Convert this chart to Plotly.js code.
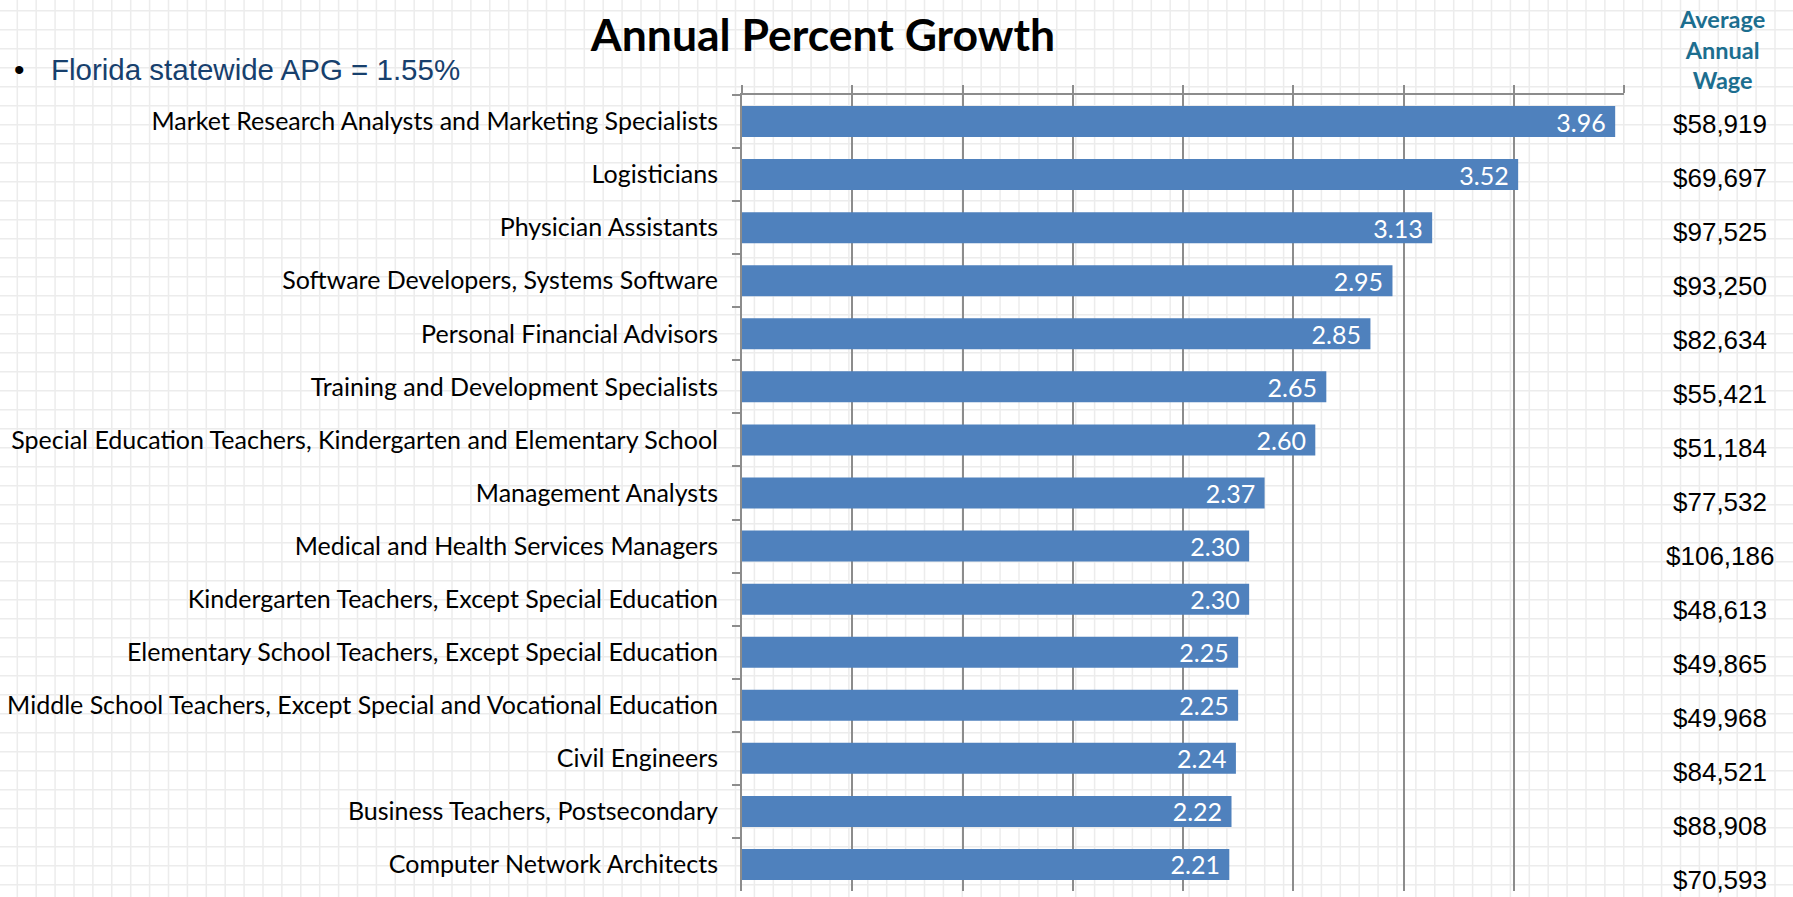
<!DOCTYPE html>
<html>
<head>
<meta charset="utf-8">
<script src="https://cdn.plot.ly/plotly-3.0.1.min.js"></script>
<style>
html,body{margin:0;padding:0;background:#fff;}
#chart{width:1793px;height:897px;}
</style>
</head>
<body>
<div id="chart"></div>
<script>
// ---- data ----
var occupations = [
  "Market Research Analysts and Marketing Specialists",
  "Logisticians",
  "Physician Assistants",
  "Software Developers, Systems Software",
  "Personal Financial Advisors",
  "Training and Development Specialists",
  "Special Education Teachers, Kindergarten and Elementary School",
  "Management Analysts",
  "Medical and Health Services Managers",
  "Kindergarten Teachers, Except Special Education",
  "Elementary School Teachers, Except Special Education",
  "Middle School Teachers, Except Special and Vocational Education",
  "Civil Engineers",
  "Business Teachers, Postsecondary",
  "Computer Network Architects"
];
var apgValues = [3.96, 3.52, 3.13, 2.95, 2.85, 2.65, 2.60, 2.37, 2.30, 2.30, 2.25, 2.25, 2.24, 2.22, 2.21];
var avgWages = ["$58,919", "$69,697", "$97,525", "$93,250", "$82,634", "$55,421", "$51,184", "$77,532",
                "$106,186", "$48,613", "$49,865", "$49,968", "$84,521", "$88,908", "$70,593"];
var chartTitle = "Annual Percent Growth";
var statewideNote = "Florida statewide APG = 1.55%";
var wageHeader = "Average<br>Annual<br>Wage";

// ---- layout geometry (pixels) ----
var W = 1793, H = 897;
var PL = 742, PR = 1624, PT = 95, PB = 891;
function px2x(px){ return (px - PL) / (PR - PL); }
function px2y(py){ return (PB - py) / (PB - PT); }

var NUM_FONT = "Lato, 'Liberation Sans', sans-serif";
var ARIAL = "'Liberation Sans', Arial, sans-serif";

var trace = {
  type: "bar",
  orientation: "h",
  y: occupations,
  x: apgValues,
  marker: {color: "#4F81BD", line: {width: 0}},
  text: apgValues.map(function(v){ return v.toFixed(2) + "\u00a0"; }),
  textposition: "inside",
  insidetextanchor: "end",
  constraintext: "none",
  textfont: {family: NUM_FONT, size: 25, color: "#ffffff"},
  hoverinfo: "x+y",
  cliponaxis: false
};

// background graph-paper grid (decoration)
var shapes = [];
for (var gx = 17.3; gx < W; gx += 18.9) {
  shapes.push({type: "line", layer: "below", xref: "paper", yref: "paper",
    x0: px2x(gx), x1: px2x(gx), y0: px2y(0), y1: px2y(H),
    line: {color: "#ececec", width: 1.5}});
}
for (var gy = 10.7; gy < H; gy += 19) {
  shapes.push({type: "line", layer: "below", xref: "paper", yref: "paper",
    x0: px2x(0), x1: px2x(W), y0: px2y(gy), y1: px2y(gy),
    line: {color: "#ececec", width: 1.5}});
}

var annotations = [];
// bullet note
annotations.push({xref: "paper", yref: "paper", x: px2x(19), y: px2y(70), xanchor: "center", yanchor: "middle",
  text: "\u2022", showarrow: false, font: {family: ARIAL, size: 30, color: "#000000"}});
annotations.push({xref: "paper", yref: "paper", x: px2x(49), y: px2y(70), xanchor: "left", yanchor: "middle",
  text: statewideNote, showarrow: false, font: {family: ARIAL, size: 29.5, color: "#17406D"}});
// wage header
annotations.push({xref: "paper", yref: "paper", x: px2x(1722), y: px2y(50), xanchor: "center", yanchor: "middle",
  text: "<b>" + wageHeader + "</b>", showarrow: false, align: "center",
  font: {family: NUM_FONT, size: 23.5, color: "#1C6E8F"}});
// wage column
var wageTop = 123.5, wageStep = 54.07;
avgWages.forEach(function(w, i){
  annotations.push({xref: "paper", yref: "paper", x: px2x(1720), y: px2y(wageTop + i * wageStep),
    xanchor: "center", yanchor: "middle", text: w, showarrow: false,
    font: {family: ARIAL, size: 26, color: "#000000"}});
});

var layout = {
  width: W, height: H,
  paper_bgcolor: "#ffffff",
  plot_bgcolor: "rgba(0,0,0,0)",
  margin: {l: PL, r: W - PR, t: PT, b: H - PB, pad: 0},
  showlegend: false,
  bargap: 0.416,
  title: {text: "<b>" + chartTitle + "</b>", xref: "container", yref: "container",
    x: 823 / W, y: 1 - 35 / H, xanchor: "center", yanchor: "middle",
    font: {family: NUM_FONT, size: 44.5, color: "#000000"}},
  xaxis: {
    side: "top", range: [0, 4], dtick: 0.5, tick0: 0,
    showgrid: true, gridcolor: "#8c8c8c", gridwidth: 2,
    showline: true, linecolor: "#8c8c8c", linewidth: 2,
    ticks: "outside", ticklen: 8, tickwidth: 2, tickcolor: "#8c8c8c",
    showticklabels: false, zeroline: false, fixedrange: true
  },
  yaxis: {
    type: "category", autorange: "reversed",
    showline: true, linecolor: "#8c8c8c", linewidth: 2,
    ticks: "outside", tickson: "boundaries", ticklen: 8, tickwidth: 2, tickcolor: "#8c8c8c",
    showgrid: false, ticklabelstandoff: 17,
    tickfont: {family: NUM_FONT, size: 25, color: "#000000"},
    fixedrange: true
  },
  shapes: shapes,
  annotations: annotations
};

Plotly.newPlot("chart", [trace], layout, {displayModeBar: false, staticPlot: true});
</script>
</body>
</html>
